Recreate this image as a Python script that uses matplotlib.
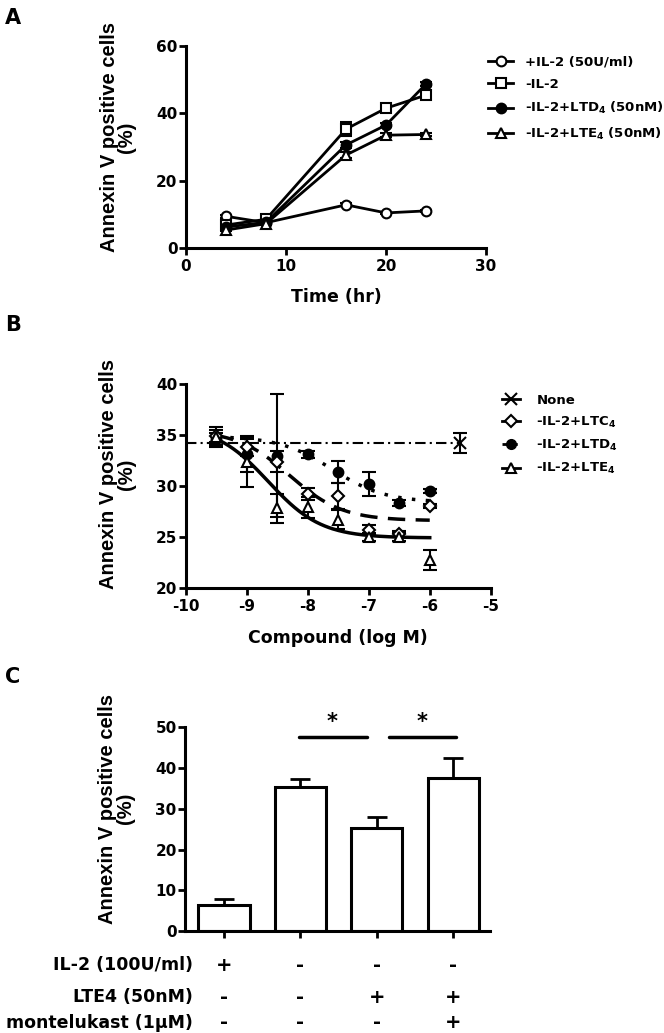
import numpy as np
import matplotlib
matplotlib.use('Agg')
import matplotlib.pyplot as plt
from matplotlib.lines import Line2D
from matplotlib.transforms import blended_transform_factory

plt.rcParams['font.family'] = ['DejaVu Sans']
plt.rcParams['font.weight'] = 'bold'
plt.rcParams['mathtext.fontset'] = 'dejavusans'
plt.rcParams['mathtext.default'] = 'bf'
plt.rcParams['axes.unicode_minus'] = False

# ---- panel A: time course ----
time_hr = [4, 8, 16, 20, 24]
il2_plus = [9.4, 7.5, 12.8, 10.4, 11.0]
il2_plus_err = [0.4, 0.3, 0.4, 0.3, 0.3]
il2_minus = [6.8, 8.5, 35.3, 41.5, 45.4]
il2_minus_err = [0.5, 0.4, 2.0, 0.6, 0.6]
ltd4_a = [6.2, 7.6, 30.6, 36.5, 48.7]
ltd4_a_err = [0.4, 0.3, 0.8, 0.5, 0.5]
lte4_a = [5.3, 7.2, 27.6, 33.5, 33.7]
lte4_a_err = [0.4, 0.3, 0.8, 0.5, 0.4]

# ---- panel B: dose response ----
log_conc = [-9.5, -9, -8.5, -8, -7.5, -7, -6.5, -6]
ltc4_b = [34.9, 33.8, 32.4, 29.2, 29.0, 25.7, 25.3, 28.0]
ltc4_b_err = [0.6, 0.8, 1.0, 0.6, 1.3, 0.5, 0.3, 0.2]
ltd4_b = [34.6, 33.1, 33.0, 33.1, 31.4, 30.2, 28.3, 29.5]
ltd4_b_err = [0.6, 1.7, 6.0, 0.3, 1.1, 1.2, 0.3, 0.2]
lte4_b = [34.8, 32.4, 27.8, 27.9, 26.7, 25.0, 25.0, 22.7]
lte4_b_err = [1.0, 2.5, 1.4, 1.0, 0.9, 0.4, 0.4, 1.0]
none_x = [-5.5]
none_y = [34.2]
none_err = [1.0]
none_line_x = [-10, -5.5]
# fitted sigmoid parameters (top, bottom, logEC50)
fit_ltc4 = (35.5, 26.6, -8.3)
fit_ltd4 = (34.9, 28.4, -7.6)
fit_lte4 = (36.0, 24.9, -8.65)
fit_range = (-9.5, -6)

# ---- panel C: bars ----
bar_vals = [6.4, 35.3, 25.2, 37.5]
bar_err = [1.4, 1.9, 2.7, 4.9]
row_labels = ['IL-2 (100U/ml)', 'LTE4 (50nM)', 'montelukast (1\u03bcM)']
row_signs = [['+', '-', '-', '-'],
             ['-', '-', '+', '+'],
             ['-', '-', '-', '+']]
sig_lines = [(0.98, 1.87), (2.16, 3.04)]
sig_height = 47.6

fig = plt.figure(figsize=(6.64, 10.33), dpi=100)


def style(ax):
    for s in ['top', 'right']:
        ax.spines[s].set_visible(False)
    for s in ['left', 'bottom']:
        ax.spines[s].set_linewidth(2.2)
    ax.tick_params(width=2, length=5, labelsize=11, pad=1)
    ax.tick_params(axis='x', pad=3)
    for lab in ax.get_xticklabels() + ax.get_yticklabels():
        lab.set_fontweight('bold')


ylab = 'Annexin V positive cells\n(%)'


def set_ylab(ax, yc):
    ax.set_ylabel(ylab, fontsize=14.5, fontweight='bold', family='Liberation Sans', linespacing=0.9)
    ax.yaxis.set_label_coords(-0.165, yc)


# panel A
axA = fig.add_axes([0.280, 0.760, 0.452, 0.1955])
kw = dict(color='black', lw=2, ms=7, mew=1.5, capsize=4, capthick=1.5, elinewidth=1.5)
axA.errorbar(time_hr, il2_plus, yerr=il2_plus_err, marker='o', mfc='white', **kw)
axA.errorbar(time_hr, il2_minus, yerr=il2_minus_err, marker='s', mfc='white', **kw)
axA.errorbar(time_hr, ltd4_a, yerr=ltd4_a_err, marker='o', mfc='black', **kw)
axA.errorbar(time_hr, lte4_a, yerr=lte4_a_err, marker='^', mfc='white', **kw)
axA.set_xlim(0, 30)
axA.set_ylim(0, 60)
axA.set_xticks([0, 10, 20, 30])
axA.set_yticks([0, 20, 40, 60])
style(axA)
axA.set_xlabel('Time (hr)', fontsize=12.5, fontweight='bold', labelpad=10)
set_ylab(axA, 0.55)
hA = [Line2D([], [], color='black', lw=2, marker=m, mfc=f, mew=1.5, ms=7)
      for m, f in [('o', 'white'), ('s', 'white'), ('o', 'black'), ('^', 'white')]]
axA.legend(hA, ['+IL-2 (50U/ml)', '-IL-2', '-IL-2+LTD$_4$ (50nM)', '-IL-2+LTE$_4$ (50nM)'],
           loc='upper left', bbox_to_anchor=(0.735, 0.946), bbox_transform=fig.transFigure,
           frameon=False, fontsize=9.5, handlelength=1.9, labelspacing=0.7, handletextpad=0.9,
           borderaxespad=0, borderpad=0)

# panel B
axB = fig.add_axes([0.280, 0.431, 0.459, 0.197])
kb = dict(color='black', ls='none', mew=1.5, capsize=5, capthick=1.5, elinewidth=1.5)
xs = np.linspace(fit_range[0], fit_range[1], 200)


def sig(p):
    top, bot, ec = p
    return bot + (top - bot) / (1 + 10 ** (xs - ec))


axB.plot(none_line_x, [none_y[0]] * 2, color='black', lw=1.5, ls=(0, (5, 2, 1, 2)))
axB.errorbar(none_x, none_y, yerr=none_err, marker='x', ms=9, **kb)
axB.plot(xs, sig(fit_ltd4), color='black', lw=2.5, ls=(0, (1, 3)))
axB.plot(xs, sig(fit_ltc4), color='black', lw=2.5, ls=(0, (5, 3)))
axB.plot(xs, sig(fit_lte4), color='black', lw=2.5)
axB.errorbar(log_conc, ltd4_b, yerr=ltd4_b_err, marker='o', mfc='black', ms=7, **kb)
axB.errorbar(log_conc, ltc4_b, yerr=ltc4_b_err, marker='D', mfc='white', ms=6, **kb)
axB.errorbar(log_conc, lte4_b, yerr=lte4_b_err, marker='^', mfc='white', ms=7, **kb)
axB.set_xlim(-10, -5)
axB.set_ylim(20, 40)
axB.set_xticks([-10, -9, -8, -7, -6, -5])
axB.set_yticks([20, 25, 30, 35, 40])
style(axB)
axB.set_xlabel('Compound (log M)', fontsize=12.5, fontweight='bold', labelpad=11)
set_ylab(axB, 0.56)
hB = [Line2D([], [], color='black', lw=2, marker='x', ms=8, mew=1.5),
      Line2D([], [], color='black', lw=2, marker='D', mfc='white', ms=6, mew=1.5),
      Line2D([], [], color='black', lw=2, ls=(0, (2, 1.5)), marker='o', mfc='black', ms=7),
      Line2D([], [], color='black', lw=2, marker='^', mfc='white', ms=7, mew=1.5)]
axB.legend(hB, ['None', '-IL-2+LTC$_4$', '-IL-2+LTD$_4$', '-IL-2+LTE$_4$'],
           loc='upper left', bbox_to_anchor=(0.756, 0.619), bbox_transform=fig.transFigure,
           frameon=False, fontsize=9.5, handlelength=1.4, labelspacing=0.62, handletextpad=1.2,
           borderaxespad=0, borderpad=0)

# panel C
axC = fig.add_axes([0.2786, 0.0987, 0.4594, 0.1973])
pos = np.arange(len(bar_vals))
axC.bar(pos, bar_vals, width=0.67, color='white', edgecolor='black', linewidth=2.2, zorder=2)
axC.errorbar(pos, bar_vals, yerr=[np.zeros(len(bar_err)), bar_err], fmt='none', ecolor='black',
             elinewidth=2, capsize=7, capthick=2, zorder=1)
for x0, x1 in sig_lines:
    axC.plot([x0, x1], [sig_height] * 2, color='black', lw=2.5, solid_capstyle='round')
    axC.text((x0 + x1) / 2 - 0.01, sig_height + 1.2, '*', ha='center', va='bottom',
             fontsize=15, fontweight='bold')
axC.set_xlim(-0.51, 3.48)
axC.set_ylim(0, 50)
axC.set_yticks([0, 10, 20, 30, 40, 50])
axC.set_xticks(pos)
axC.set_xticklabels([])
style(axC)
set_ylab(axC, 0.6)

row_y = [0.0658, 0.0348, 0.0097]
tr = blended_transform_factory(axC.transData, fig.transFigure)
for lab, signs, ry in zip(row_labels, row_signs, row_y):
    fig.text(0.291, ry, lab, ha='right', va='center', fontsize=12.5, fontweight='bold')
    for p, s in zip(pos, signs):
        axC.text(p, ry, s, transform=tr, ha='center', va='center', fontsize=14, fontweight='bold')

fig.text(0.008, 0.983, 'A', fontsize=15, fontweight='bold', va='center')
fig.text(0.008, 0.685, 'B', fontsize=15, fontweight='bold', va='center')
fig.text(0.008, 0.345, 'C', fontsize=15, fontweight='bold', va='center')

fig.savefig('out.png', dpi=100)
